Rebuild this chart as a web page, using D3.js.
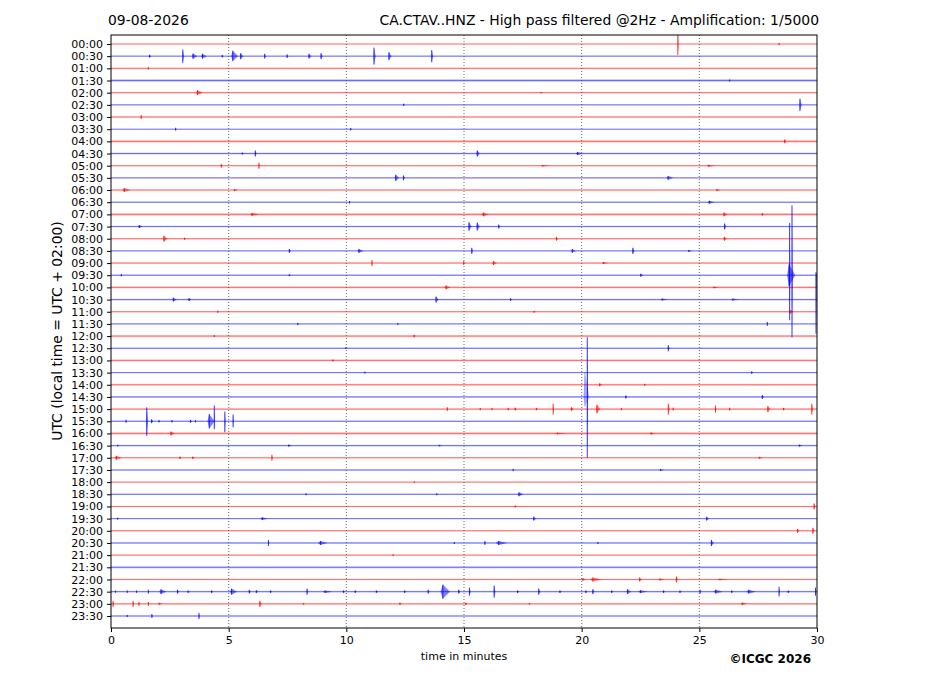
<!DOCTYPE html>
<html>
<head>
<meta charset="utf-8">
<script src="https://cdn.jsdelivr.net/npm/d3@7"></script>
<style>
  body { margin: 0; background: #fff; }
  text { font-family: "DejaVu Sans", sans-serif; }
</style>
</head>
<body>
<div id="chart"></div>
<script>
// Dimensions
const width = 927;
const height = 696;
const margin = { top: 35, right: 110, bottom: 68, left: 111 };

// Titres
const dateLabel = "09-08-2026";
const stationTitle = "CA.CTAV..HNZ - High pass filtered @2Hz - Amplification: 1/5000";
const yTitle = "UTC (local time = UTC + 02:00)";
const xTitle = "time in minutes";
const credit = "\u00a9ICGC 2026";

// Lignes (une toutes les 30 minutes)
const rowLabels = d3.range(48).map(i =>
  String(Math.floor(i / 2)).padStart(2, "0") + ":" + (i % 2 ? "30" : "00"));
const rowColors = ["#ff0000", "#0000ff"];
const xTicks = [0, 5, 10, 15, 20, 25, 30];

// Niveau de bruit de fond par ligne (0 = calme, 1 = bruité)
const rowNoise = [
  0.2, 0.3, 0.4, 0.9, 0.4, 0.2, 0.3, 0.2, 0.8, 0.6, 0.3, 0.2,
  0.4, 0.3, 0.9, 0.4, 0.4, 0.3, 0.3, 0.4, 0.7, 0.4, 0.4, 0.3,
  0.7, 0.4, 0.6, 0.3, 0.6, 0.4, 0.4, 0.4, 0.8, 0.4, 0.4, 0.3,
  0.3, 0.3, 0.3, 0.3, 0.3, 0.3, 0.3, 0.6, 0.4, 0.5, 0.4, 0.3
];

// Événements : [ligne, minute, amplitude haut, amplitude bas, durée (min)]
// amplitudes en hauteur de ligne
const events = [
  [0, 24.1, 1.0, 0.9, 0.05], [0, 28.4, 0.1, 0.1, 0.05],
  [1, 1.66, 0.12, 0.12, 0.1], [1, 3.07, 0.55, 0.55, 0.08], [1, 3.55, 0.22, 0.22, 0.25],
  [1, 3.95, 0.2, 0.2, 0.25], [1, 4.75, 0.1, 0.1, 0.1], [1, 5.25, 0.45, 0.4, 0.3],
  [1, 5.55, 0.25, 0.25, 0.15], [1, 6.55, 0.2, 0.2, 0.08], [1, 7.5, 0.15, 0.15, 0.08],
  [1, 8.45, 0.2, 0.2, 0.15], [1, 8.95, 0.25, 0.25, 0.1], [1, 11.2, 0.7, 0.7, 0.1],
  [1, 11.85, 0.33, 0.33, 0.15], [1, 13.65, 0.5, 0.5, 0.08],
  [2, 1.6, 0.1, 0.1, 0.05],
  [3, 26.3, 0.08, 0.08, 0.05],
  [4, 3.75, 0.2, 0.2, 0.3], [4, 18.3, 0.05, 0.05, 0.1],
  [5, 12.45, 0.1, 0.1, 0.05], [5, 29.3, 0.5, 0.5, 0.1],
  [6, 1.3, 0.15, 0.15, 0.08],
  [7, 2.76, 0.12, 0.12, 0.05], [7, 10.2, 0.1, 0.1, 0.05],
  [8, 28.65, 0.16, 0.16, 0.08],
  [9, 5.6, 0.08, 0.08, 0.1], [9, 6.15, 0.25, 0.25, 0.08], [9, 15.6, 0.25, 0.25, 0.15], [9, 19.9, 0.12, 0.12, 0.3],
  [10, 4.7, 0.16, 0.16, 0.06], [10, 6.3, 0.25, 0.25, 0.06], [10, 18.45, 0.06, 0.06, 0.4], [10, 25.5, 0.08, 0.08, 0.4],
  [11, 12.15, 0.25, 0.25, 0.2], [11, 12.45, 0.2, 0.2, 0.1], [11, 23.75, 0.16, 0.16, 0.3],
  [12, 0.65, 0.16, 0.16, 0.35], [12, 5.3, 0.08, 0.08, 0.2], [12, 25.8, 0.08, 0.08, 0.2],
  [13, 10.15, 0.1, 0.1, 0.05], [13, 25.5, 0.12, 0.12, 0.3],
  [14, 6.1, 0.12, 0.12, 0.4], [14, 15.9, 0.16, 0.16, 0.3], [14, 26.1, 0.16, 0.16, 0.2], [14, 27.7, 0.1, 0.1, 0.1],
  [15, 1.25, 0.12, 0.12, 0.2], [15, 15.25, 0.35, 0.35, 0.15], [15, 15.6, 0.33, 0.33, 0.15],
  [15, 16.5, 0.16, 0.16, 0.1], [15, 26.1, 0.25, 0.25, 0.1],
  [16, 2.3, 0.25, 0.25, 0.2], [16, 3.15, 0.08, 0.08, 0.1], [16, 18.95, 0.16, 0.16, 0.1], [16, 26.1, 0.16, 0.16, 0.15],
  [17, 7.6, 0.16, 0.16, 0.1], [17, 10.6, 0.16, 0.16, 0.25], [17, 15.35, 0.25, 0.25, 0.08],
  [17, 19.65, 0.16, 0.16, 0.2], [17, 22.2, 0.25, 0.25, 0.1], [17, 24.6, 0.08, 0.08, 0.2],
  [18, 11.1, 0.25, 0.25, 0.05], [18, 15.0, 0.16, 0.16, 0.05], [18, 16.3, 0.16, 0.16, 0.2], [18, 21, 0.08, 0.08, 0.3],
  [19, 0.45, 0.1, 0.1, 0.05], [19, 7.6, 0.08, 0.08, 0.1], [19, 22.55, 0.12, 0.12, 0.15],
  [19, 28.85, 4.3, 3.7, 0.05], [19, 28.95, 5.75, 5.1, 0.05], [19, 28.9, 0.9, 0.9, 0.35], [19, 29.97, 0.25, 4.8, 0.05],
  [20, 14.3, 0.16, 0.16, 0.25], [20, 25.7, 0.06, 0.06, 0.3],
  [21, 2.7, 0.16, 0.16, 0.2], [21, 3.35, 0.12, 0.12, 0.15], [21, 13.85, 0.25, 0.25, 0.15],
  [21, 17, 0.1, 0.1, 0.1], [21, 23.5, 0.08, 0.08, 0.3], [21, 26.5, 0.08, 0.08, 0.3],
  [22, 4.55, 0.1, 0.1, 0.05], [22, 18, 0.08, 0.08, 0.1], [22, 28.9, 0.16, 0.16, 0.2],
  [23, 7.95, 0.1, 0.1, 0.05], [23, 12.2, 0.08, 0.08, 0.05], [23, 27.9, 0.16, 0.16, 0.05],
  [24, 4.4, 0.08, 0.08, 0.05], [24, 12.9, 0.1, 0.1, 0.1],
  [25, 23.7, 0.25, 0.25, 0.08], [25, 10, 0.06, 0.06, 0.1],
  [26, 9.45, 0.08, 0.08, 0.1],
  [27, 10.8, 0.08, 0.08, 0.05], [27, 27.25, 0.1, 0.1, 0.1],
  [28, 20.8, 0.12, 0.12, 0.15], [28, 22.7, 0.08, 0.08, 0.1],
  [29, 20.25, 4.9, 5.0, 0.05], [29, 20.2, 2.0, 0.8, 0.25], [29, 21.9, 0.12, 0.12, 0.1], [29, 27.7, 0.16, 0.16, 0.1],
  [30, 14.3, 0.16, 0.16, 0.05], [30, 15.7, 0.1, 0.1, 0.05], [30, 16.2, 0.1, 0.1, 0.05], [30, 16.9, 0.1, 0.1, 0.1],
  [30, 17.2, 0.12, 0.12, 0.1], [30, 18.1, 0.1, 0.1, 0.1], [30, 18.8, 0.45, 0.45, 0.05], [30, 19.6, 0.16, 0.16, 0.15],
  [30, 20.7, 0.35, 0.35, 0.2], [30, 21.7, 0.1, 0.1, 0.05], [30, 23.7, 0.45, 0.45, 0.08], [30, 23.9, 0.12, 0.12, 0.05],
  [30, 25.7, 0.3, 0.3, 0.05], [30, 26.3, 0.12, 0.12, 0.05], [30, 27.95, 0.25, 0.25, 0.15], [30, 28.6, 0.1, 0.1, 0.1],
  [30, 29.8, 0.45, 0.45, 0.08],
  [31, 0.65, 0.12, 0.12, 0.05], [31, 1.54, 1.15, 1.2, 0.08], [31, 1.75, 0.16, 0.16, 0.1], [31, 2.05, 0.1, 0.1, 0.05],
  [31, 2.6, 0.1, 0.1, 0.05], [31, 3.4, 0.12, 0.12, 0.1], [31, 3.6, 0.1, 0.1, 0.05], [31, 4.25, 0.6, 0.6, 0.3],
  [31, 4.4, 1.3, 0.65, 0.05], [31, 4.85, 0.8, 0.9, 0.05], [31, 5.2, 0.55, 0.5, 0.05],
  [32, 2.6, 0.16, 0.16, 0.2], [32, 19.1, 0.06, 0.06, 0.5], [32, 23, 0.08, 0.08, 0.2],
  [33, 0.3, 0.08, 0.08, 0.05], [33, 7.6, 0.08, 0.08, 0.2], [33, 14, 0.06, 0.06, 0.2], [33, 29.3, 0.08, 0.08, 0.2],
  [34, 0.3, 0.16, 0.16, 0.3], [34, 2.95, 0.1, 0.1, 0.1], [34, 3.5, 0.1, 0.1, 0.1], [34, 6.85, 0.25, 0.25, 0.05], [34, 27.6, 0.08, 0.08, 0.2],
  [35, 17.1, 0.1, 0.1, 0.05], [35, 23.4, 0.08, 0.08, 0.2],
  [36, 12.9, 0.06, 0.06, 0.05],
  [37, 8.3, 0.08, 0.08, 0.05], [37, 13.85, 0.08, 0.08, 0.05], [37, 17.4, 0.16, 0.16, 0.25],
  [38, 17.2, 0.08, 0.08, 0.1], [38, 29.9, 0.25, 0.25, 0.1],
  [39, 0.3, 0.08, 0.08, 0.1], [39, 6.5, 0.12, 0.12, 0.3], [39, 18.0, 0.16, 0.16, 0.15], [39, 25.35, 0.16, 0.16, 0.15],
  [40, 29.2, 0.16, 0.16, 0.1], [40, 29.85, 0.25, 0.25, 0.1],
  [41, 6.7, 0.25, 0.25, 0.05], [41, 9.0, 0.16, 0.16, 0.4], [41, 14.6, 0.08, 0.08, 0.05], [41, 15.9, 0.16, 0.16, 0.05],
  [41, 16.6, 0.16, 0.16, 0.5], [41, 20.7, 0.08, 0.08, 0.05], [41, 25.55, 0.25, 0.25, 0.15],
  [42, 12.0, 0.08, 0.08, 0.05],
  [44, 20.1, 0.1, 0.1, 0.2], [44, 20.6, 0.16, 0.16, 0.5], [44, 22.5, 0.16, 0.16, 0.15],
  [44, 23.4, 0.08, 0.08, 0.3], [44, 24.05, 0.25, 0.25, 0.1], [44, 26, 0.06, 0.06, 0.5],
  [45, 0.2, 0.08, 0.08, 0.05], [45, 0.7, 0.1, 0.1, 0.05], [45, 1.1, 0.1, 0.1, 0.05], [45, 1.6, 0.16, 0.16, 0.05],
  [45, 2.2, 0.2, 0.2, 0.3], [45, 2.85, 0.16, 0.16, 0.1], [45, 3.3, 0.1, 0.1, 0.1], [45, 4.3, 0.1, 0.1, 0.1],
  [45, 5.2, 0.25, 0.25, 0.3], [45, 5.9, 0.16, 0.16, 0.1], [45, 6.2, 0.12, 0.12, 0.1], [45, 6.8, 0.1, 0.1, 0.1],
  [45, 8.35, 0.25, 0.25, 0.08], [45, 9.2, 0.1, 0.1, 0.4], [45, 9.9, 0.1, 0.1, 0.1], [45, 10.4, 0.1, 0.1, 0.1],
  [45, 11.3, 0.1, 0.1, 0.1], [45, 12.5, 0.1, 0.1, 0.1], [45, 13.5, 0.16, 0.16, 0.1], [45, 14.2, 0.58, 0.58, 0.4],
  [45, 14.8, 0.16, 0.16, 0.1], [45, 15.25, 0.33, 0.33, 0.08], [45, 16.3, 0.5, 0.5, 0.08], [45, 17.3, 0.1, 0.1, 0.1],
  [45, 18.2, 0.25, 0.25, 0.1], [45, 19.1, 0.1, 0.1, 0.1], [45, 20.2, 0.1, 0.1, 0.1], [45, 20.5, 0.2, 0.2, 0.1],
  [45, 21.3, 0.1, 0.1, 0.1], [45, 22.0, 0.2, 0.2, 0.2], [45, 22.6, 0.12, 0.12, 0.4], [45, 23.5, 0.1, 0.1, 0.1],
  [45, 24.2, 0.1, 0.1, 0.1], [45, 25.05, 0.16, 0.16, 0.08], [45, 25.8, 0.16, 0.16, 0.4], [45, 26.4, 0.1, 0.1, 0.1],
  [45, 27.2, 0.16, 0.16, 0.4], [45, 28.4, 0.4, 0.4, 0.05], [45, 28.8, 0.1, 0.1, 0.1], [45, 29.95, 0.33, 0.33, 0.05],
  [46, 0.1, 0.25, 0.25, 0.05], [46, 0.95, 0.25, 0.25, 0.05], [46, 1.2, 0.16, 0.16, 0.05], [46, 1.6, 0.16, 0.16, 0.05],
  [46, 2.1, 0.08, 0.08, 0.2], [46, 6.35, 0.25, 0.25, 0.1], [46, 8.2, 0.06, 0.06, 0.1], [46, 12.3, 0.1, 0.1, 0.1],
  [46, 15.1, 0.1, 0.1, 0.1], [46, 17.8, 0.06, 0.06, 0.1], [46, 26.9, 0.1, 0.1, 0.3],
  [47, 0.7, 0.08, 0.08, 0.05], [47, 1.75, 0.16, 0.16, 0.05], [47, 3.75, 0.25, 0.25, 0.05]
];

// SVG
const svg = d3.select("#chart")
  .append("svg")
  .attr("width", width)
  .attr("height", height);

svg.append("rect").attr("width", width).attr("height", height).attr("fill", "#fff");

const x0 = margin.left, x1 = width - margin.right;
const y0 = margin.top, y1 = height - margin.bottom;

// Échelles
const x = d3.scaleLinear().domain([0, 30]).range([x0, x1]);
const y = d3.scalePoint().domain(rowLabels).range([44, 616]);
const step = y.step();
const amp = d3.scaleLinear().domain([0, 1]).range([0, step]);
const noiseWidth = d3.scaleLinear().domain([0, 1]).range([0.6, 3.2]);

// Zone de traçage (clip)
svg.append("clipPath").attr("id", "plot-clip")
  .append("rect").attr("x", x0).attr("y", y0).attr("width", x1 - x0).attr("height", y1 - y0);

const plot = svg.append("g").attr("clip-path", "url(#plot-clip)");

// Lignes de base : bande de bruit + trait
plot.selectAll("line.noise")
  .data(rowLabels)
  .join("line")
  .attr("class", "noise")
  .attr("x1", x(0)).attr("x2", x(30))
  .attr("y1", d => y(d)).attr("y2", d => y(d))
  .attr("stroke", (d, i) => rowColors[i % 2])
  .attr("stroke-opacity", 0.2)
  .attr("stroke-width", (d, i) => noiseWidth(rowNoise[i]));

plot.selectAll("line.base")
  .data(rowLabels)
  .join("line")
  .attr("class", "base")
  .attr("x1", x(0)).attr("x2", x(30))
  .attr("y1", d => y(d)).attr("y2", d => y(d))
  .attr("stroke", (d, i) => rowColors[i % 2])
  .attr("stroke-opacity", 0.6)
  .attr("stroke-width", 0.8);

// Événements : fuseau + trait vertical au pic
const isCoda = d => d[2] > 1.5 && d[4] > 0.1;

plot.selectAll("path.event")
  .data(events)
  .join("path")
  .attr("class", "event")
  .attr("d", d => {
    const [r, m, up, down, dur] = d;
    const yb = y(rowLabels[r]);
    const xa = x(m - dur / 2), xb = x(m + dur / 2), xp = x(m - dur / 4);
    return `M${xa},${yb}L${xp},${yb - amp(up)}L${xb},${yb}L${xp},${yb + amp(down)}Z`;
  })
  .attr("fill", d => rowColors[d[0] % 2])
  .attr("fill-opacity", d => (isCoda(d) ? 0.25 : 0.5));

plot.selectAll("line.spike")
  .data(events)
  .join("line")
  .attr("class", "spike")
  .attr("x1", d => x(d[1] - d[4] / 4)).attr("x2", d => x(d[1] - d[4] / 4))
  .attr("y1", d => y(rowLabels[d[0]]) - amp(d[2]))
  .attr("y2", d => y(rowLabels[d[0]]) + amp(d[3]))
  .attr("stroke", d => rowColors[d[0] % 2])
  .attr("stroke-opacity", d => (isCoda(d) ? 0.3 : 0.85))
  .attr("stroke-width", 0.9);

// Grille verticale pointillée
svg.selectAll("line.grid")
  .data(xTicks.slice(1, -1))
  .join("line")
  .attr("class", "grid")
  .attr("x1", d => x(d)).attr("x2", d => x(d))
  .attr("y1", y0).attr("y2", y1)
  .attr("stroke", "#444")
  .attr("stroke-width", 0.8)
  .attr("stroke-dasharray", "1,2");

// Cadre
svg.append("rect")
  .attr("x", x0).attr("y", y0)
  .attr("width", x1 - x0).attr("height", y1 - y0)
  .attr("fill", "none")
  .attr("stroke", "#000")
  .attr("stroke-width", 1);

// Axes
const yAxis = svg.append("g")
  .attr("transform", `translate(${x0},0)`)
  .call(d3.axisLeft(y).tickSize(4).tickPadding(4));
yAxis.select(".domain").remove();
yAxis.selectAll("text").attr("font-size", 11).attr("font-family", "DejaVu Sans").attr("fill", "#000");

const xAxis = svg.append("g")
  .attr("transform", `translate(0,${y1})`)
  .call(d3.axisBottom(x).tickValues(xTicks).tickSize(4).tickPadding(4));
xAxis.select(".domain").remove();
xAxis.selectAll("text").attr("font-size", 11).attr("font-family", "DejaVu Sans").attr("fill", "#000");

// Textes
svg.append("text")
  .attr("x", 108).attr("y", 25)
  .attr("font-size", 13.9)
  .text(dateLabel);

svg.append("text")
  .attr("x", 819).attr("y", 25)
  .attr("text-anchor", "end")
  .attr("font-size", 13.9)
  .text(stationTitle);

svg.append("text")
  .attr("transform", "translate(62,331) rotate(-90)")
  .attr("text-anchor", "middle")
  .attr("font-size", 13.9)
  .text(yTitle);

svg.append("text")
  .attr("x", 464).attr("y", 660)
  .attr("text-anchor", "middle")
  .attr("font-size", 11)
  .text(xTitle);

svg.append("text")
  .attr("x", 811).attr("y", 663)
  .attr("text-anchor", "end")
  .attr("font-size", 12)
  .attr("font-weight", "bold")
  .text(credit);
</script>
</body>
</html>
